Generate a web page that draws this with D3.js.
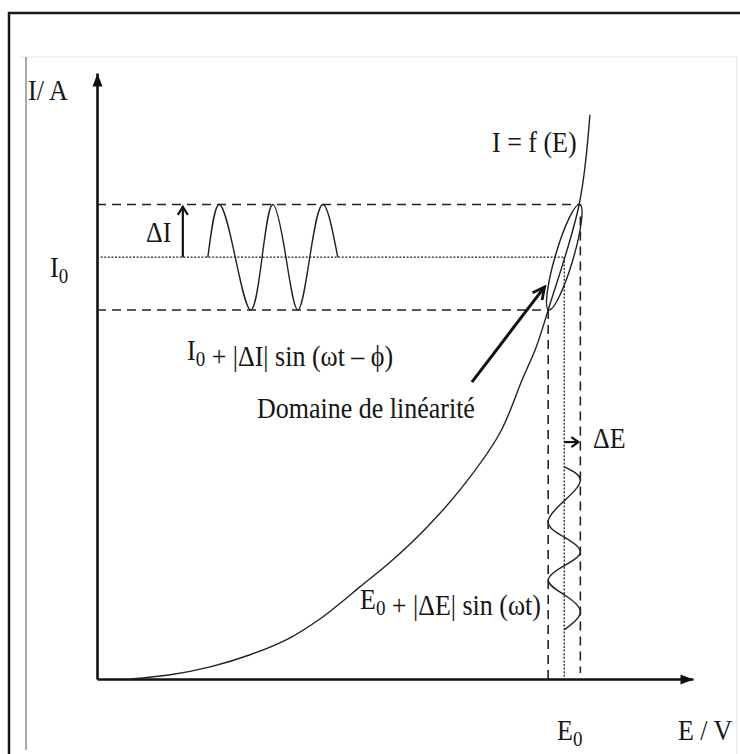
<!DOCTYPE html>
<html>
<head>
<meta charset="utf-8">
<script src="https://cdn.jsdelivr.net/npm/d3@7"></script>
<style>
  body { margin: 0; background: #fff; }
  svg { display: block; }
  text { font-family: "Liberation Serif", "Times New Roman", serif; font-size: 26px; fill: #161616; }
</style>
</head>
<body>
<div id="chart"></div>
<script>
// polarisation point and amplitudes (axis units 0..100)
const E0 = 78.4, dE = 2.7;
const I0 = 69.6, dI = 8.7;

// I = f(E)
const curveE = [5.5, 12.3, 19.0, 25.7, 32.4, 37.4, 40.8, 44.1, 49.2, 55.4, 60.9, 67.6, 71.3, 73.7, 75.7, 80.9, 82.7];
const curveI = [0, 0.7, 2.0, 4.0, 6.8, 9.9, 12.5, 15.2, 19.3, 25.1, 31.2, 40.6, 49.3, 54.8, 60.9, 78.3, 93.1];

// current response wave (horizontal), extrema and crossings
const waveIE = [18.6, 20.5, 23.2, 25.8, 27.7, 29.5, 31.7, 33.7, 35.7, 37.9, 40.4];
const waveII = [69.6, 78.3, 69.6, 60.9, 69.6, 78.3, 69.6, 60.9, 69.6, 78.3, 69.6];

// potential perturbation wave (vertical)
const waveEE = [78.4, 81.1, 78.4, 75.7, 78.4, 81.1, 78.4, 75.7, 78.4, 81.1, 78.4];
const waveEI = [35.0, 32.8, 29.4, 25.9, 23.4, 21.0, 18.7, 16.3, 13.9, 11.1, 8.1];

let width = 740, height = 754;

let x = d3.scaleLinear().domain([0, 100]).range([97, 693]);
let y = d3.scaleLinear().domain([0, 100]).range([679, 73]);

let svg = d3.select("#chart")
    .append("svg")
    .attr("width", width)
    .attr("height", height);

let defs = svg.append("defs");

// filled head for the axes
defs.append("marker")
    .attr("id", "axisHead")
    .attr("markerUnits", "userSpaceOnUse")
    .attr("viewBox", "-14 -6 15 12")
    .attr("markerWidth", 15).attr("markerHeight", 12)
    .attr("refX", 0).attr("refY", 0)
    .attr("orient", "auto")
    .append("path")
    .attr("d", "M0,0L-13,-5L-13,5Z")
    .attr("fill", "#111");

// open heads
function openHead(id, len, half, sw) {
    defs.append("marker")
        .attr("id", id)
        .attr("markerUnits", "userSpaceOnUse")
        .attr("viewBox", (-len - 3) + " " + (-half - 3) + " " + (len + 6) + " " + (2 * half + 6))
        .attr("markerWidth", len + 6).attr("markerHeight", 2 * half + 6)
        .attr("refX", 0).attr("refY", 0)
        .attr("orient", "auto")
        .append("path")
        .attr("d", "M" + (-len) + "," + (-half) + "L0,0L" + (-len) + "," + half)
        .attr("fill", "none")
        .attr("stroke", "#111")
        .attr("stroke-width", sw);
}
openHead("headI", 8, 5, 2.2);
openHead("headE", 7, 5, 2.2);
openHead("headBig", 12, 6, 2.8);

// page frames
svg.append("path")
    .attr("d", "M9,754V13H740")
    .attr("fill", "none")
    .attr("stroke", "#1a1a1a")
    .attr("stroke-width", 2.5);
svg.append("path")
    .attr("d", "M19,57H737V754")
    .attr("fill", "none")
    .attr("stroke", "#e4e4e4")
    .attr("stroke-width", 1);
svg.append("line")
    .attr("x1", 26).attr("x2", 26).attr("y1", 57).attr("y2", 750)
    .attr("stroke", "#555")
    .attr("stroke-width", 1);

// axes without ticks
let xAxis = svg.append("g")
    .attr("transform", "translate(0," + y(0) + ")")
    .call(d3.axisBottom(x).tickValues([]).tickSizeOuter(0));
let yAxis = svg.append("g")
    .attr("transform", "translate(" + x(0) + ",0)")
    .call(d3.axisLeft(y).tickValues([]).tickSizeOuter(0));
svg.selectAll(".domain")
    .attr("stroke", "#111")
    .attr("stroke-width", 2.6)
    .attr("marker-end", "url(#axisHead)");

// guide lines
function guide(x1, y1, x2, y2, dash, sw) {
    svg.append("line")
        .attr("x1", x(x1)).attr("y1", y(y1))
        .attr("x2", x(x2)).attr("y2", y(y2))
        .attr("stroke", "#222")
        .attr("stroke-width", sw)
        .attr("stroke-dasharray", dash);
}
guide(0, I0 + dI, E0 + dE, I0 + dI, "9,6", 1.6);
guide(0, I0 - dI, E0 - dE, I0 - dI, "9,6", 1.6);
guide(0, I0, E0, I0, "2,1.6", 1.3);
guide(E0 - dE, I0 - dI, E0 - dE, 0, "9,6", 1.6);
guide(E0 + dE, I0 + dI - 2, E0 + dE, 1, "9,6", 1.6);
guide(E0, I0, E0, 0, "2,1.6", 1.3);

// characteristic curve
let lineGenerator = d3.line()
    .x(function(d) { return x(d[0]); })
    .y(function(d) { return y(d[1]); });

svg.append("path")
    .datum(d3.zip(curveE, curveI))
    .attr("fill", "none")
    .attr("stroke", "#222")
    .attr("stroke-width", 1.4)
    .attr("d", lineGenerator.curve(d3.curveCatmullRom.alpha(0.5)));

// sine waves
let waveLine = d3.line()
    .x(function(d) { return x(d[0]); })
    .y(function(d) { return y(d[1]); })
    .curve(d3.curveNatural);

svg.append("path")
    .datum(d3.zip(waveIE, waveII))
    .attr("fill", "none")
    .attr("stroke", "#222")
    .attr("stroke-width", 1.4)
    .attr("d", waveLine);

svg.append("path")
    .datum(d3.zip(waveEE, waveEI))
    .attr("fill", "none")
    .attr("stroke", "#222")
    .attr("stroke-width", 1.4)
    .attr("d", waveLine);

// Lissajous ellipse between the two extreme points of the curve
let pTop = [x(curveE[15]), y(curveI[15])];
let pBot = [x(curveE[14]), y(curveI[14])];
let angle = Math.atan2(pTop[1] - pBot[1], pTop[0] - pBot[0]) * 180 / Math.PI;
let semiMajor = Math.hypot(pTop[0] - pBot[0], pTop[1] - pBot[1]) / 2;
svg.append("ellipse")
    .attr("cx", 0).attr("cy", 0)
    .attr("rx", semiMajor)
    .attr("ry", 9)
    .attr("transform", "translate(" + x(E0) + "," + y(I0) + ") rotate(" + angle + ")")
    .attr("fill", "none")
    .attr("stroke", "#222")
    .attr("stroke-width", 1.4);

// arrows
svg.append("line")
    .attr("x1", x(14.4)).attr("y1", y(I0))
    .attr("x2", x(14.4)).attr("y2", y(77.9))
    .attr("stroke", "#111").attr("stroke-width", 2.2)
    .attr("marker-end", "url(#headI)");

svg.append("line")
    .attr("x1", x(E0)).attr("y1", y(39.1))
    .attr("x2", x(E0 + dE) - 2).attr("y2", y(39.1))
    .attr("stroke", "#111").attr("stroke-width", 2.2)
    .attr("marker-end", "url(#headE)");

svg.append("line")
    .attr("x1", x(62.9)).attr("y1", y(49.0))
    .attr("x2", x(75.1)).attr("y2", y(64.7))
    .attr("stroke", "#111").attr("stroke-width", 3)
    .attr("marker-end", "url(#headBig)");

// labels, parts are plain strings or {low: "..."} for subscripts;
// the scan's type is a little taller than it is wide
function label(px, py, parts) {
    let t = svg.append("text")
        .attr("transform", "translate(" + px + "," + py + ") scale(1,1.15)");
    parts.forEach(function(p) {
        if (typeof p === "object") {
            t.append("tspan").attr("font-size", 19).attr("dy", 5).text(p.low);
            t.append("tspan").attr("dy", -5).text("");
        } else {
            t.append("tspan").text(p);
        }
    });
    return t;
}

label(28, 100, ["I/ A"]);
label(50, y(I0) + 20, ["I", {low: "0"}]);
label(146, 242, ["ΔI"]);
label(492, 152, ["I = f (E)"]);
label(187, 360, ["I", {low: "0"}, " + |ΔI| sin (ωt – ϕ)"]);
label(257, 418, ["Domaine de linéarité"]);
label(593, 448, ["ΔE"]);
label(360, 609, ["E", {low: "0"}, " + |ΔE| sin (ωt)"]);
label(557, 740, ["E", {low: "0"}]);
label(678, 740, ["E / V"]);
</script>
</body>
</html>
